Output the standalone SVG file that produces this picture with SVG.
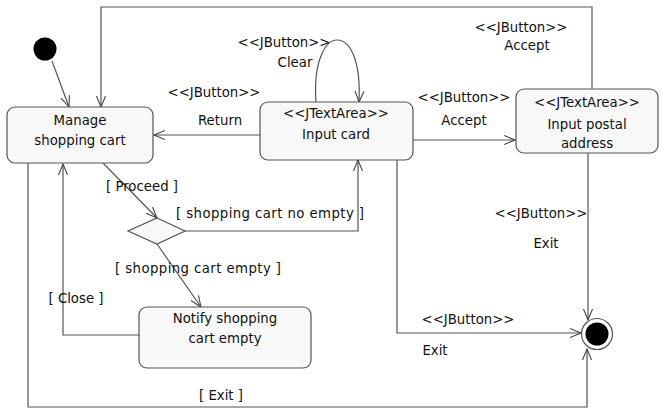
<svg xmlns="http://www.w3.org/2000/svg" width="662" height="410" viewBox="0 0 662 410">
<defs>
<style>
.st{fill:#f8f8f8;stroke:#555;stroke-width:1.2}
.c{fill:none;stroke:#555;stroke-width:1.2}
text{font-family:"DejaVu Sans","Liberation Sans",sans-serif;font-size:13.3px;fill:#111;text-anchor:middle}
</style>
<marker id="a" markerWidth="12" markerHeight="12" refX="11" refY="5" orient="auto" markerUnits="userSpaceOnUse" viewBox="0 0 12 10">
<path d="M0,0.5 L11,5 L0,9.5" fill="none" stroke="#444" stroke-width="1.1"/>
</marker>
</defs>
<rect width="662" height="410" fill="#fff"/>
<g id="connectors">
<path class="c" d="M52,61 L69,107" marker-end="url(#a)"/>
<path class="c" d="M592,89 V7 H101 V107" marker-end="url(#a)"/>
<path class="c" d="M260,135 H154" marker-end="url(#a)"/>
<path class="c" d="M316,102 C313,60 326,40 337,40 C350,40 361,60 359,102" marker-end="url(#a)"/>
<path class="c" d="M413,140 H515" marker-end="url(#a)"/>
<path class="c" d="M588,153 V320" marker-end="url(#a)"/>
<path class="c" d="M397,160 V333 H581" marker-end="url(#a)"/>
<path class="c" d="M28,163 V407 H587 V349" marker-end="url(#a)"/>
<path class="c" d="M103,163 L157,218" marker-end="url(#a)"/>
<path class="c" d="M185,231 H358 V160" marker-end="url(#a)"/>
<path class="c" d="M157,244 L201,307" marker-end="url(#a)"/>
<path class="c" d="M139,335 H63 V164" marker-end="url(#a)"/>
<text x="214" y="97">&lt;&lt;JButton&gt;&gt;</text>
<text x="220" y="125">Return</text>
<text x="284" y="47">&lt;&lt;JButton&gt;&gt;</text>
<text x="295" y="67">Clear</text>
<text x="464" y="102">&lt;&lt;JButton&gt;&gt;</text>
<text x="464" y="125">Accept</text>
<text x="521" y="32">&lt;&lt;JButton&gt;&gt;</text>
<text x="527" y="50">Accept</text>
<text x="142" y="191">[ Proceed ]</text>
<text x="270" y="218" textLength="188" lengthAdjust="spacing">[ shopping cart no empty ]</text>
<text x="198" y="273" textLength="166" lengthAdjust="spacing">[ shopping cart empty ]</text>
<text x="76" y="303">[ Close ]</text>
<text x="221" y="400">[ Exit ]</text>
<text x="468" y="324">&lt;&lt;JButton&gt;&gt;</text>
<text x="435" y="355">Exit</text>
<text x="541" y="218">&lt;&lt;JButton&gt;&gt;</text>
<text x="546" y="248">Exit</text>
</g>
<g id="initial"><circle cx="45" cy="49" r="11.5" fill="#000"/></g>
<g id="manage">
<rect class="st" x="7" y="107" width="146" height="56" rx="8"/>
<text x="80" y="125">Manage</text>
<text x="80" y="145">shopping cart</text>
</g>
<g id="inputcard">
<rect class="st" x="260" y="102" width="153" height="58" rx="8"/>
<text x="336" y="118">&lt;&lt;JTextArea&gt;&gt;</text>
<text x="336" y="139">Input card</text>
</g>
<g id="postal">
<rect class="st" x="516" y="89" width="142" height="64" rx="8"/>
<text x="587" y="107">&lt;&lt;JTextArea&gt;&gt;</text>
<text x="587" y="129">Input postal</text>
<text x="587" y="148">address</text>
</g>
<g id="decision"><path class="st" d="M157,218 L185,231 L157,244 L128,231 Z"/></g>
<g id="notify">
<rect class="st" x="139" y="307" width="172" height="61" rx="8"/>
<text x="225" y="323">Notify shopping</text>
<text x="225" y="343">cart empty</text>
</g>
<g id="final">
<circle cx="597" cy="334" r="15.5" fill="#fff" stroke="#555" stroke-width="1.2"/>
<circle cx="597" cy="334" r="11.5" fill="#000"/>
</g>
</svg>
